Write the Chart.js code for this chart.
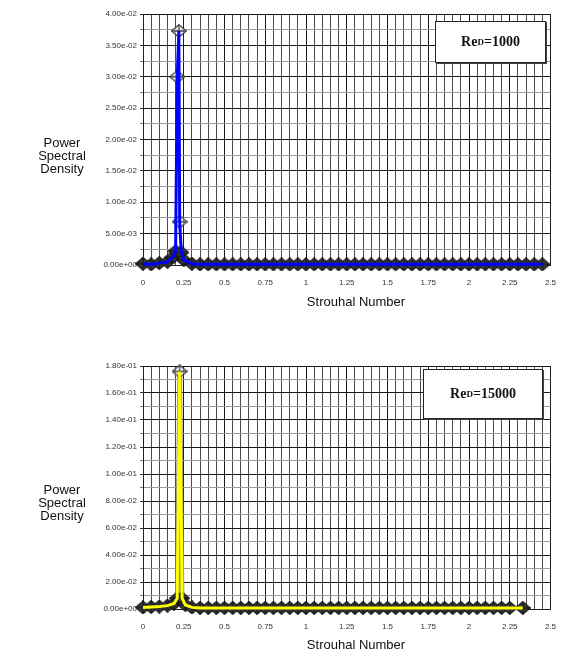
<!DOCTYPE html>
<html>
<head>
<meta charset="utf-8">
<script src="https://cdn.jsdelivr.net/npm/chart.js@4.4.1/dist/chart.umd.min.js"></script>
<style>
  body { margin: 0; background: #fff; }
  #wrap { position: relative; width: 562px; height: 657px; overflow: hidden; font-family: "Liberation Sans", Arial, sans-serif; }
  canvas { position: absolute; left: 0; }
  .ylab { position: absolute; left: 22px; width: 80px; text-align: center; font-size: 13px; line-height: 13px; color: #111; }
  .xlab { position: absolute; left: 256px; width: 200px; text-align: center; font-size: 13px; color: #111; }
  .rebox { position: absolute; background: #fff; border: 1px solid #222; box-shadow: 1px 1px 0 #444;
           font-family: "Liberation Serif", "Times New Roman", serif; font-weight: bold; font-size: 14px; color: #111;
           display: flex; align-items: center; justify-content: center; }
  .rebox sub { font-size: 9px; vertical-align: -2px; }
</style>
</head>
<body>
<div id="wrap">
  <canvas id="topChart" width="562" height="300" style="top:0px"></canvas>
  <canvas id="bottomChart" width="562" height="300" style="top:352px"></canvas>

  <div class="ylab" style="top:136px">Power<br>Spectral<br>Density</div>
  <div class="ylab" style="top:483px">Power<br>Spectral<br>Density</div>
  <div class="xlab" style="top:294px">Strouhal Number</div>
  <div class="xlab" style="top:637px">Strouhal Number</div>

  <div class="rebox" style="left:435px; top:21px; width:109px; height:40px">Re<sub>D</sub>=1000</div>
  <div class="rebox" style="left:423px; top:369px; width:118px; height:48px">Re<sub>D</sub>=15000</div>
</div>

<script>
// Re_D = 1000 spectrum
const topSt = [0, 0.05, 0.1, 0.15, 0.18, 0.2, 0.21, 0.22, 0.225, 0.235, 0.25, 0.3,
  0.35, 0.4, 0.45, 0.5, 0.55, 0.6, 0.65, 0.7, 0.75, 0.8, 0.85, 0.9, 0.95, 1.0,
  1.05, 1.1, 1.15, 1.2, 1.25, 1.3, 1.35, 1.4, 1.45, 1.5, 1.55, 1.6, 1.65, 1.7,
  1.75, 1.8, 1.85, 1.9, 1.95, 2.0, 2.05, 2.1, 2.15, 2.2, 2.25, 2.3, 2.35, 2.4, 2.45];
const topPsd = [2e-4, 1e-4, 3e-4, 5e-4, 1.2e-3, 2.2e-3, 3.0e-2, 3.73e-2, 6.9e-3, 2.0e-3, 8e-4, 2e-4,
  1e-4, 1e-4, 1e-4, 1e-4, 1e-4, 1e-4, 1e-4, 1e-4, 1e-4, 1e-4, 1e-4, 1e-4, 1e-4, 1e-4,
  1e-4, 1e-4, 1e-4, 1e-4, 1e-4, 1e-4, 1e-4, 1e-4, 1e-4, 1e-4, 1e-4, 1e-4, 1e-4, 1e-4,
  1e-4, 1e-4, 1e-4, 1e-4, 1e-4, 1e-4, 1e-4, 1e-4, 1e-4, 1e-4, 1e-4, 1e-4, 1e-4, 1e-4, 1e-4];

// Re_D = 15000 spectrum
const bottomSt = [0, 0.05, 0.1, 0.15, 0.19, 0.21, 0.225, 0.24, 0.26, 0.3,
  0.35, 0.4, 0.45, 0.5, 0.55, 0.6, 0.65, 0.7, 0.75, 0.8, 0.85, 0.9, 0.95, 1.0,
  1.05, 1.1, 1.15, 1.2, 1.25, 1.3, 1.35, 1.4, 1.45, 1.5, 1.55, 1.6, 1.65, 1.7,
  1.75, 1.8, 1.85, 1.9, 1.95, 2.0, 2.05, 2.1, 2.15, 2.2, 2.25, 2.33];
const bottomPsd = [1.2e-3, 1.5e-3, 1.8e-3, 2.5e-3, 4e-3, 8e-3, 1.76e-1, 8e-3, 3e-3, 1.2e-3,
  8e-4, 8e-4, 8e-4, 8e-4, 8e-4, 8e-4, 8e-4, 8e-4, 8e-4, 8e-4, 8e-4, 8e-4, 8e-4, 8e-4,
  8e-4, 8e-4, 8e-4, 8e-4, 8e-4, 8e-4, 8e-4, 8e-4, 8e-4, 8e-4, 8e-4, 8e-4, 8e-4, 8e-4,
  8e-4, 8e-4, 8e-4, 8e-4, 8e-4, 8e-4, 8e-4, 8e-4, 8e-4, 8e-4, 8e-4, 8e-4];

// axis ranges (minor steps, every n-th tick is labelled)
const xMax = 2.5, xStep = 0.05, xLabelEvery = 5;
const topYMax = 0.04, topYStep = 0.0025;
const bottomYMax = 0.18, bottomYStep = 0.01;
const yLabelEvery = 2;

// "5.00e-03" style labels like the spreadsheet
function sciLabel(v) {
  if (Math.abs(v) < 1e-12) return '0.00e+00';
  let e = Math.floor(Math.log10(Math.abs(v)) + 1e-9);
  let m = v / Math.pow(10, e);
  if (m >= 9.995) { m /= 10; e++; }
  return m.toFixed(2) + 'e' + (e < 0 ? '-' : '+') + String(Math.abs(e)).padStart(2, '0');
}

// diamond with a cross in it
function makeMarker(fill, stroke) {
  const c = document.createElement('canvas');
  c.width = 16; c.height = 14;
  const g = c.getContext('2d');
  g.fillStyle = fill;
  g.strokeStyle = stroke;
  g.lineWidth = 1.3;
  g.beginPath();
  g.moveTo(8, 0.7); g.lineTo(15.3, 7); g.lineTo(8, 13.3); g.lineTo(0.7, 7);
  g.closePath();
  g.fill();
  g.stroke();
  g.beginPath();
  g.moveTo(0.7, 7); g.lineTo(15.3, 7);
  g.moveTo(8, 0.7); g.lineTo(8, 13.3);
  g.stroke();
  return c;
}
const hollowMarker = makeMarker('rgba(255,255,255,0.6)', '#444');
const bandMarker = makeMarker('#3c3c3c', '#1a1a1a');

function makeChart(canvasId, st, psd, yMax, yStep, lineColor, underColor, plotTop, plotBottom) {
  const pts = st.map((s, i) => ({ x: s, y: psd[i] }));
  const canvasH = 300;
  return new Chart(document.getElementById(canvasId), {
    type: 'scatter',
    data: {
      datasets: [
        {
          data: pts,
          showLine: true,
          borderColor: lineColor,
          borderWidth: 3,
          pointRadius: 0,
          tension: 0,
          clip: false,
        },
        {
          data: pts,
          showLine: !!underColor,
          borderColor: underColor || 'transparent',
          borderWidth: 4.5,
          pointStyle: (ctx) => (ctx.raw && ctx.raw.y > yMax * 0.1 ? hollowMarker : bandMarker),
          pointRadius: 7,
          tension: 0,
          clip: false,
        },
      ],
    },
    options: {
      responsive: false,
      animation: false,
      layout: { padding: { left: 0, right: 10, top: plotTop, bottom: 0 } },
      plugins: { legend: { display: false }, tooltip: { enabled: false } },
      scales: {
        x: {
          type: 'linear',
          min: 0,
          max: xMax,
          afterFit: (s) => { s.height = canvasH - plotBottom; },
          ticks: {
            stepSize: xStep,
            autoSkip: false,
            maxRotation: 0,
            padding: 1,
            color: '#333',
            font: { family: 'Liberation Sans', size: 8 },
            callback: (v, i) => (i % xLabelEvery === 0 ? String(+v.toFixed(2)) : ''),
          },
          grid: {
            drawTicks: true,
            tickLength: 12,
            tickColor: 'transparent',
            color: (ctx) => (ctx.index % xLabelEvery === 0 ? '#1a1a1a' : '#4a4a4a'),
            lineWidth: 1,
          },
          border: { color: '#222' },
        },
        y: {
          min: 0,
          max: yMax,
          afterFit: (s) => { s.width = 143; },
          ticks: {
            stepSize: yStep,
            autoSkip: false,
            padding: 3,
            color: '#333',
            font: { family: 'Liberation Sans', size: 8 },
            callback: (v, i) => (i % yLabelEvery === 0 ? sciLabel(v) : ''),
          },
          grid: {
            tickLength: 3,
            color: (ctx) => (ctx.index % yLabelEvery === 0 ? '#1a1a1a' : '#999'),
            tickColor: (ctx) => (ctx.index % yLabelEvery === 0 ? '#333' : '#777'),
            lineWidth: 1,
          },
          border: { color: '#222' },
        },
      },
    },
  });
}

makeChart('topChart', topSt, topPsd, topYMax, topYStep, '#0000ff', null, 14, 265);
makeChart('bottomChart', bottomSt, bottomPsd, bottomYMax, bottomYStep, '#ffff00', '#8a8a6a', 14, 257);
</script>
</body>
</html>
